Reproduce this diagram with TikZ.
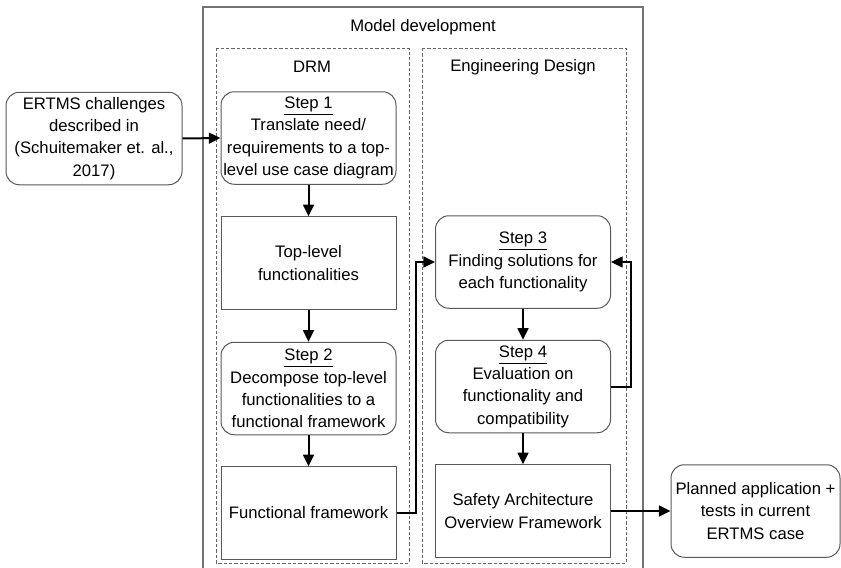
\documentclass[tikz,border=0pt]{standalone}
\usepackage{fontspec}
\setmainfont{Liberation Sans}
\usetikzlibrary{arrows.meta}

\tikzset{
  stepbox/.style={draw=black!65, line width=0.6pt, rounded corners=8pt, align=center, inner sep=1pt, minimum width=105pt, minimum height=55.5pt},
  resbox/.style={draw=black!65, line width=0.6pt, align=center, inner sep=1pt, minimum width=105pt, minimum height=55.5pt},
  group/.style={draw=black!60, line width=0.5pt, dash pattern=on 2pt off 1.2pt},
  flow/.style={-{Triangle[length=7pt,width=6.5pt]}, line width=1.2pt},
}

\begin{document}
\begin{tikzpicture}[x=0.6pt, y=-0.6pt, font=\fontsize{10}{13.4}\selectfont]
\useasboundingbox (0,0) rectangle (841,568);
% frame of the model development, open at the bottom
\draw[black!55, line width=0.9pt] (203,568) -- (203,7) -- (643,7) -- (643,568);
\node (Model) at (423,27) {Model development};
\draw[group] (216,48) rectangle (409,563);
\draw[group] (422,48) rectangle (626,563);
\node (DRM) at (312,67) {DRM};
\node (ED) at (523,67) {Engineering Design};

% input and output
\node[stepbox, minimum width=105.6pt] (Ertms) at (94,138.5) {ERTMS challenges\\described in\\(Schuitemaker et. al.,\\2017)};
\node[stepbox, minimum width=101.4pt] (Planned) at (755.5,511) {Planned application +\\tests in current\\ERTMS case};

% DRM column
\node[stepbox] (Step1) at (308.5,138) {\underline{Step 1}\\Translate need/\\requirements to a top-\\level use case diagram};
\node[resbox] (TopLevel) at (308.5,263) {Top-level\\functionalities};
\node[stepbox] (Step2) at (308.5,388.5) {\underline{Step 2}\\Decompose top-level\\functionalities to a\\functional framework};
\node[resbox] (FuncFw) at (308.5,513) {Functional framework};

% engineering design column
\node[stepbox] (Step3) at (523,262) {\underline{Step 3}\\Finding solutions for\\each functionality};
\node[stepbox] (Step4) at (523,386.5) {\underline{Step 4}\\Evaluation on\\functionality and\\compatibility};
\node[resbox] (Saof) at (523,511) {Safety Architecture\\Overview Framework};

\draw[flow] (Ertms.east) -- (Step1.west);
\draw[flow] (Step1) -- (TopLevel);
\draw[flow] (TopLevel) -- (Step2);
\draw[flow] (Step2) -- (FuncFw);
\draw[flow] (FuncFw.east) -- ++(19,0) |- (Step3.west);
\draw[flow] (Step3) -- (Step4);
\draw[flow] (Step4) -- (Saof);
\draw[flow] (Step4.east) -- ++(20,0) |- (Step3.east);
\draw[flow] (Saof.east) -- (Planned.west);
\end{tikzpicture}
\end{document}
